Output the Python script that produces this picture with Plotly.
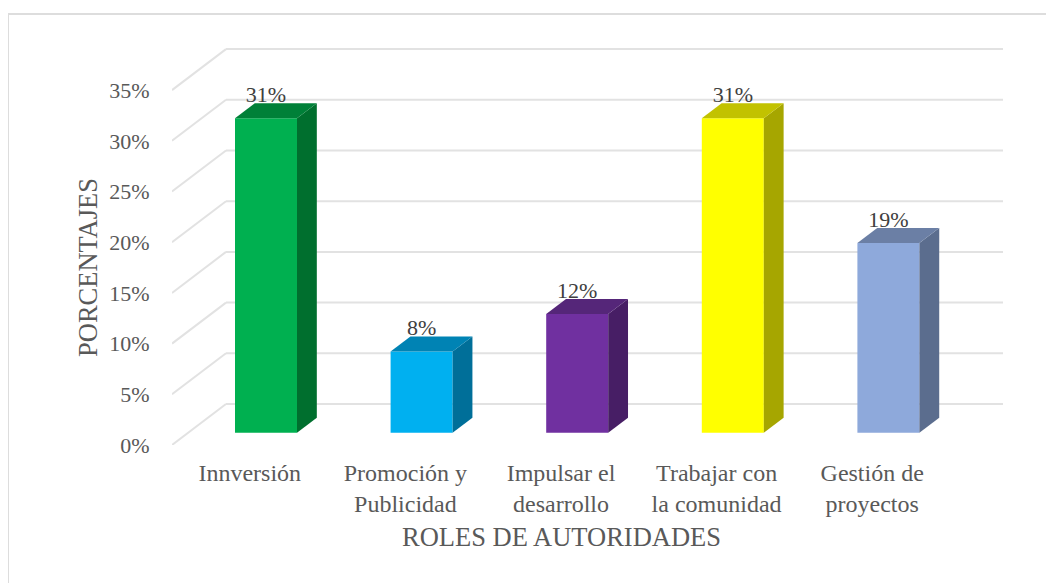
import plotly.graph_objects as go

# data
categories = ['Innversión', 'Promoción y<br>Publicidad', 'Impulsar el<br>desarrollo',
              'Trabajar con<br>la comunidad', 'Gestión de<br>proyectos']
values = [31, 8, 11.7, 31, 18.7]
front_colors = ['#00B050', '#00B0F0', '#7030A0', '#FFFF00', '#8EA9DB']
top_colors = ['#008038', '#0083B4', '#552679', '#C2C200', '#6B7FA5']
side_colors = ['#006F2E', '#006F99', '#471E65', '#A6A600', '#5B6D8E']
tick_values = [0, 5, 10, 15, 20, 25, 30, 35]

W, H = 1054, 583
PAGE = 8  # the page body adds this margin before the figure starts
# plot box in picture pixels, front floor edge is the bottom left corner
left, right, top, bottom = 172, 1003, 48, 445
px_per_cat = 155.6
px_per_pct = 10.14

# how far the back wall is pushed from the front plane, in axis units
wall_x = 54 / px_per_cat
wall_y = 41 / px_per_pct
bar_width = 62 / px_per_cat
# where the bars sit inside the floor depth (0 front, 1 back)
bar_front = 0.30
bar_back = 0.667

x_range = [-0.5, -0.5 + (right - left) / px_per_cat]
y_range = [0, (bottom - top) / px_per_pct]


def paper_x(px):
    return (px - left) / (right - left)


def paper_y(py):
    return (bottom - py) / (bottom - top)


fig = go.Figure()

# front faces
fig.add_trace(go.Bar(
    x=[i + wall_x * bar_front for i in range(len(values))],
    y=values,
    base=[wall_y * bar_front] * len(values),
    width=bar_width,
    marker=dict(color=front_colors, line=dict(width=0)),
    showlegend=False,
    hoverinfo='skip'
))

# top and side of each bar
depth_x = wall_x * (bar_back - bar_front)
depth_y = wall_y * (bar_back - bar_front)
for i, v in enumerate(values):
    x0 = i + wall_x * bar_front - bar_width / 2
    x1 = x0 + bar_width
    y0 = wall_y * bar_front
    y1 = y0 + v
    fig.add_trace(go.Scatter(
        x=[x1, x1 + depth_x, x1 + depth_x, x1, x1],
        y=[y0, y0 + depth_y, y1 + depth_y, y1, y0],
        mode='lines', fill='toself', fillcolor=side_colors[i],
        line=dict(width=0), showlegend=False, hoverinfo='skip'
    ))
    fig.add_trace(go.Scatter(
        x=[x0, x1, x1 + depth_x, x0 + depth_x, x0],
        y=[y1, y1, y1 + depth_y, y1 + depth_y, y1],
        mode='lines', fill='toself', fillcolor=top_colors[i],
        line=dict(width=0), showlegend=False, hoverinfo='skip'
    ))

# data labels, they sit almost on the bar top
fig.add_trace(go.Scatter(
    x=[i + wall_x * bar_front for i in range(len(values))],
    y=[v + wall_y * bar_back - 0.4 for v in values],
    mode='text',
    text=[f'{v:.0f}%' for v in values],
    textposition='top center',
    textfont=dict(family='Liberation Serif', size=22, color='#404040'),
    cliponaxis=False,
    showlegend=False,
    hoverinfo='skip'
))

# walls: floor diagonal plus back line for every tick
shapes = []
for t in tick_values:
    for (xa, ya, xb, yb) in [(x_range[0], t, x_range[0] + wall_x, t + wall_y),
                             (x_range[0] + wall_x, t + wall_y, x_range[1], t + wall_y)]:
        shapes.append(dict(type='line', layer='below', xref='x', yref='y',
                           x0=xa, y0=ya, x1=xb, y1=yb,
                           line=dict(color='#E2E2E2', width=2)))

# chart frame, only top and left show in the picture
shapes.append(dict(type='line', layer='below', xref='paper', yref='paper',
                   x0=paper_x(8), y0=paper_y(14), x1=paper_x(W), y1=paper_y(14),
                   line=dict(color='#DDDDDD', width=2)))
shapes.append(dict(type='line', layer='below', xref='paper', yref='paper',
                   x0=paper_x(8), y0=paper_y(14), x1=paper_x(8), y1=paper_y(H),
                   line=dict(color='#DDDDDD', width=2)))

tick_font = dict(family='Liberation Serif', size=22, color='#595959')
cat_font = dict(family='Liberation Serif', size=24, color='#595959')
title_font = dict(family='Liberation Serif', size=26.5, color='#595959')

fig.update_layout(
    width=W,
    height=H,
    margin=dict(l=left - PAGE, r=W + PAGE - right, t=top - PAGE, b=H + PAGE - bottom, pad=0),
    paper_bgcolor='white',
    plot_bgcolor='white',
    barmode='overlay',
    showlegend=False,
    shapes=shapes,
    xaxis=dict(range=x_range, tickvals=list(range(len(categories))), ticktext=categories,
               showgrid=False, zeroline=False, showline=False, ticks='outside', ticklen=6,
               tickcolor='rgba(0,0,0,0)', tickfont=cat_font),
    yaxis=dict(range=y_range, tickvals=tick_values, ticktext=[f'{t}%' for t in tick_values],
               showgrid=False, zeroline=False, showline=False, ticks='outside', ticklen=17,
               tickcolor='rgba(0,0,0,0)', tickfont=tick_font),
    annotations=[
        dict(text='ROLES DE AUTORIDADES', xref='paper', yref='paper', xanchor='center', yanchor='middle',
             x=paper_x(561), y=paper_y(537), showarrow=False, font=title_font),
        dict(text='PORCENTAJES', xref='paper', yref='paper', textangle=-90, xanchor='center', yanchor='middle',
             x=paper_x(88), y=paper_y(268), showarrow=False, font=title_font),
    ]
)

fig.write_html("out.html")
